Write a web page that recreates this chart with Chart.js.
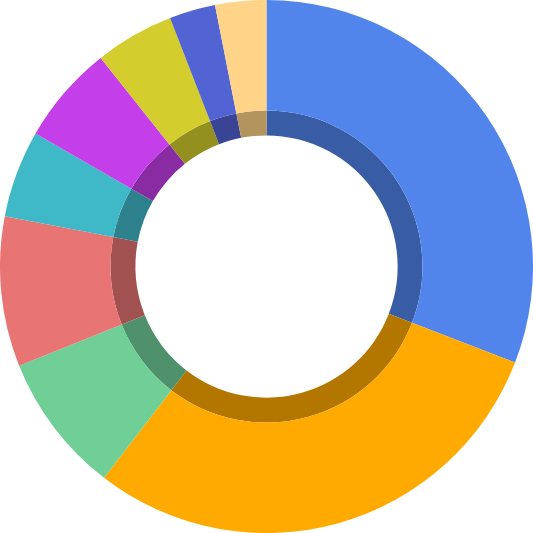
<!DOCTYPE html>
<html>
<head>
<meta charset="utf-8">
<script src="https://cdn.jsdelivr.net/npm/chart.js@4"></script>
<style>
html,body{margin:0;padding:0;background:#fff;}
#wrap{width:533px;height:533px;}
</style>
</head>
<body>
<div id="wrap"><canvas id="c" width="533" height="533"></canvas></div>
<script>
const categories = ["A","B","C","D","E","F","G","H","I"];
const values = [30.9, 29.6, 8.5, 9.1, 5.3, 6.0, 4.8, 2.8, 3.1];
const colors = ["#5285EC","#FFAA00","#6FCF97","#E87474","#3FB8C8","#C43FEA","#D4CD2E","#5263D4","#FFD388"];

function darken(hex, f) {
  const n = parseInt(hex.slice(1), 16);
  const r = Math.round(((n >> 16) & 255) * f);
  const g = Math.round(((n >> 8) & 255) * f);
  const b = Math.round((n & 255) * f);
  return `rgb(${r},${g},${b})`;
}
const darkColors = colors.map(c => darken(c, 0.7));

new Chart(document.getElementById('c'), {
  type: 'doughnut',
  data: {
    labels: categories,
    datasets: [
      { data: values, backgroundColor: colors, borderWidth: 0, weight: 111 },
      { data: values, backgroundColor: darkColors, borderWidth: 0, weight: 25 }
    ]
  },
  options: {
    responsive: false,
    animation: false,
    cutout: '49.2%',
    plugins: { legend: { display: false }, tooltip: { enabled: false } },
    layout: { padding: 0 }
  }
});
</script>
</body>
</html>
